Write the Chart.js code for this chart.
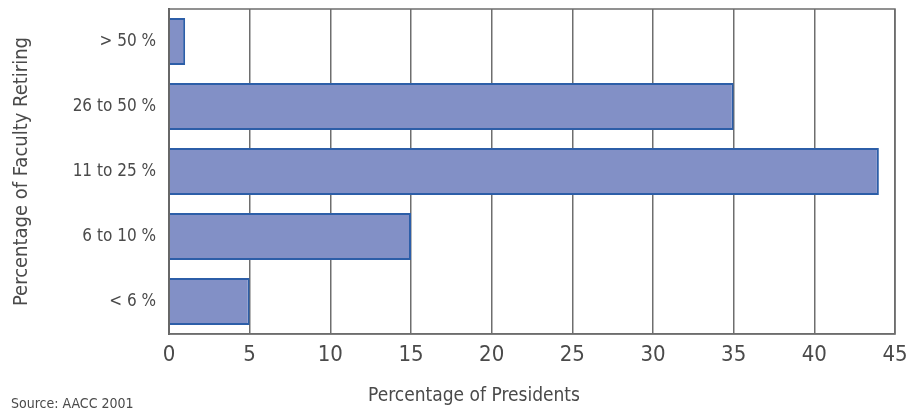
<!DOCTYPE html>
<html>
<head>
<meta charset="utf-8">
<script src="https://cdn.jsdelivr.net/npm/chart.js@4/dist/chart.umd.min.js"></script>
<style>
  html, body { margin: 0; padding: 0; background: #fff; }
  #wrap { width: 912px; height: 413px; position: relative; }
</style>
</head>
<body>
<div id="wrap"><canvas id="chart"></canvas></div>
<script>
const categories = ['> 50 %', '26 to 50 %', '11 to 25 %', '6 to 10 %', '< 6 %'];
const presidentsPct = [1, 35, 44, 15, 5];
const xTitle = 'Percentage of Presidents';
const yTitle = 'Percentage of Faculty Retiring';
const sourceNote = 'Source: AACC 2001';

const narrow = '"Liberation Sans Narrow", "DejaVu Sans Condensed", Roboto, sans-serif';
const textGray = '#4a4a4a';
const gridGray = '#6e6e6e';

// frame round the plot, plus the x title and source note
const extras = {
  id: 'extras',
  afterDraw(chart) {
    const {ctx, chartArea: a} = chart;
    ctx.save();
    ctx.strokeStyle = gridGray;
    ctx.lineWidth = 1.5;
    ctx.strokeRect(a.left, a.top, a.right - a.left, a.bottom - a.top);
    ctx.fillStyle = textGray;
    ctx.textBaseline = 'middle';
    ctx.textAlign = 'center';
    ctx.font = '300 19px ' + narrow;
    ctx.fillText(xTitle, 474, 396);
    ctx.textAlign = 'left';
    ctx.font = '14px ' + narrow;
    ctx.fillText(sourceNote, 11, 404);
    ctx.restore();
  }
};

new Chart(document.getElementById('chart'), {
  type: 'bar',
  data: {
    labels: categories,
    datasets: [{
      data: presidentsPct,
      backgroundColor: '#8290c6',
      borderColor: '#2c5ea8',
      borderWidth: 2,
      barPercentage: 0.72,
      categoryPercentage: 1
    }]
  },
  options: {
    indexAxis: 'y',
    responsive: true,
    maintainAspectRatio: false,
    animation: false,
    layout: { padding: { top: 9, right: 17, bottom: 0, left: 0 } },
    plugins: { legend: { display: false }, tooltip: { enabled: false } },
    scales: {
      x: {
        min: 0, max: 45,
        ticks: { stepSize: 5, color: textGray, padding: 8, font: { family: narrow, size: 22, weight: 300 } },
        grid: { color: gridGray, lineWidth: 1.5, drawTicks: false },
        border: { color: gridGray, width: 1.5 },
        afterFit(s) { s.height = 79; s.paddingLeft = 0; s.paddingRight = 0; }
      },
      y: {
        ticks: { color: textGray, padding: 13, font: { family: narrow, size: 17 } },
        grid: { display: false, drawTicks: false },
        border: { color: '#555', width: 2 },
        title: { display: true, text: yTitle, color: textGray, padding: { top: 10, bottom: 0 }, font: { family: narrow, size: 20, weight: 300 } },
        afterFit(s) { s.width = 169; s.paddingTop = 0; s.paddingBottom = 0; }
      }
    }
  },
  plugins: [extras]
});
</script>
</body>
</html>
